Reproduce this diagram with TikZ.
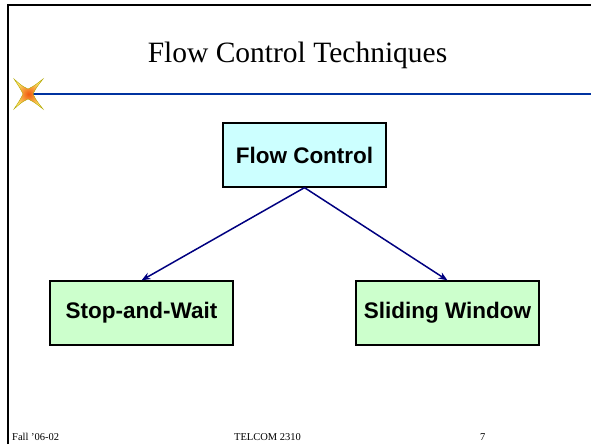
\documentclass[tikz,border=0pt]{standalone}
\usepackage{fontspec}
\setmainfont{Liberation Serif}
\newfontfamily\arialfont{Liberation Sans}
\usetikzlibrary{arrows.meta}
\definecolor{boxcyan}{HTML}{CCFFFF}
\definecolor{boxgreen}{HTML}{CCFFCC}
\definecolor{navyline}{HTML}{000080}
\definecolor{ruleblue}{HTML}{0033A0}
\definecolor{starin}{HTML}{F05A10}
\definecolor{starout}{HTML}{FFE66A}
\tikzset{
  box/.style={draw=black, line width=1.3pt, inner sep=0pt, font=\arialfont\bfseries\fontsize{22.5}{26}\selectfont},
  conn/.style={draw=navyline, line width=1.5pt, -{Stealth[length=9pt,width=7pt]}},
  foot/.style={font=\fontsize{10.5}{12}\selectfont, anchor=base west, inner sep=0pt}
}
\begin{document}
\begin{tikzpicture}[x=1pt,y=-1pt]
\useasboundingbox (0,0) rectangle (591,444);
% frame lines
\draw[line width=2pt] (8,444) -- (8,5.5) -- (591,5.5);
% title
\node[font=\fontsize{29.5}{32}\selectfont, anchor=base, inner sep=0pt] (title) at (297.5,63) {Flow Control Techniques};
% blue rule
\coordinate (rl) at (32,94);
\coordinate (rr) at (591,94);
\draw[ruleblue, line width=2.5pt] (rl) -- (rr);
% star
\shade[inner color=starin, outer color=starout, draw=olive!70!yellow, line width=0.4pt]
  (43,79) .. controls (36,88) .. (33,94)
  .. controls (36,100) .. (43,109)
  .. controls (34,102) .. (28,99)
  .. controls (22,102) .. (14,109)
  .. controls (20,100) .. (23,94)
  .. controls (20,88) .. (14,79)
  .. controls (22,86) .. (28,89)
  .. controls (34,86) .. (43,79) -- cycle;
% boxes
\node[box, fill=boxcyan, minimum width=163pt, minimum height=64pt] (fc) at (304.5,155) {Flow Control};
\node[box, fill=boxgreen, minimum width=183pt, minimum height=64pt] (sw) at (141.5,313) {Stop-and-Wait};
\node[box, fill=boxgreen, minimum width=183pt, minimum height=64pt] (sl) at (447.5,313) {Sliding Window};
% connectors
\draw[conn] (fc.south) -- (sw.north);
\draw[conn] (fc.south) -- (sl.north);
% footer
\node[foot] (f1) at (12,440) {Fall '06-02};
\node[foot, anchor=base] (f2) at (267.5,440) {TELCOM 2310};
\node[foot] (f3) at (480,440) {7};
\end{tikzpicture}
\end{document}
